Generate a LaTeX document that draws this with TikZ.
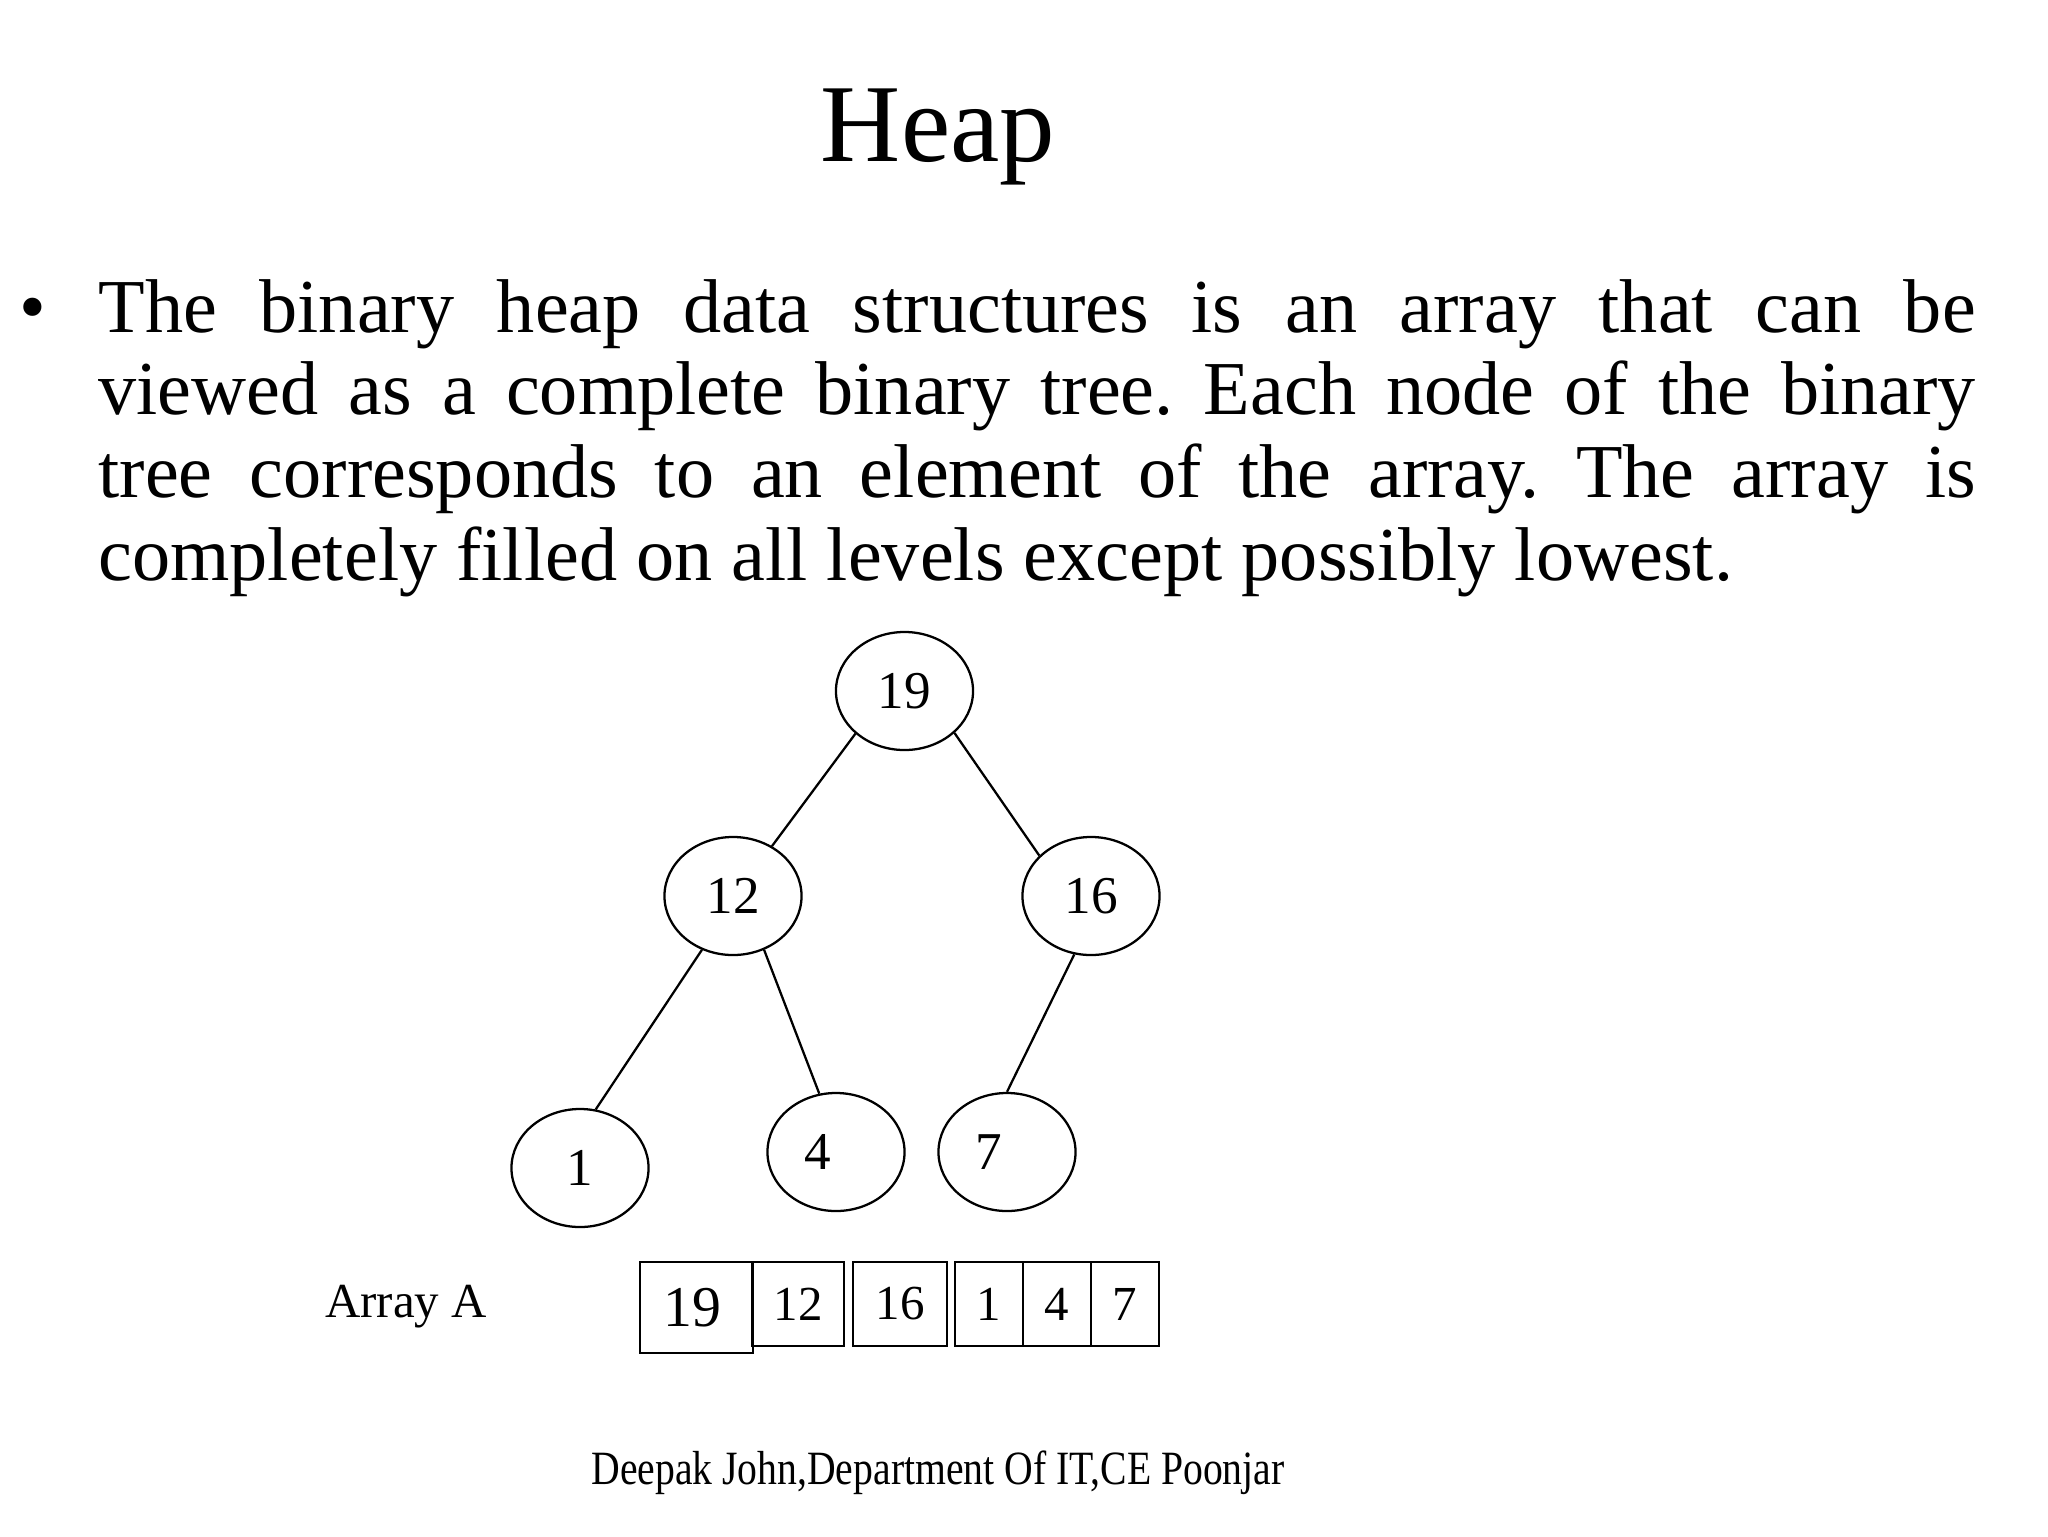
\documentclass[tikz,border=0pt]{standalone}
\usepackage{fontspec}
\setmainfont{Liberation Serif}
\usepackage{graphicx}
\usepackage{tikz}
\usetikzlibrary{shapes.geometric}
\frenchspacing
\tikzset{
  edge/.style={line width=0.8pt, draw=black},
  vertex/.style={
    draw=black,
    ellipse,
    line width=0.8pt,
    minimum width=48.2pt,
    minimum height=41.5pt,
    inner sep=0pt,
    font=\fontsize{18.7}{20}\selectfont
  },
  offvertex/.style={vertex, label={[font=\fontsize{18.7}{20}\selectfont, xshift=-6.3pt]center:#1}},
  cell/.style={
    draw=black,
    line width=0.9pt,
    inner sep=0pt,
    minimum height=29.5pt,
    font=\fontsize{17.2}{20}\selectfont
  },
  bigcell/.style={cell, minimum height=32pt, font=\fontsize{20.3}{22}\selectfont},
  titletext/.style={font=\fontsize{39}{44}\selectfont},
  bodytext/.style={font=\fontsize{26.8}{29.1}\selectfont},
  smalltext/.style={font=\fontsize{17.2}{20}\selectfont}
}
\begin{document}
\begin{tikzpicture}[x=0.3516pt, y=-0.3516pt]
      \fill[white] (0,0) rectangle (2048,1536);
      \useasboundingbox (0,0) rectangle (2048,1536);

      \node[titletext,anchor=base] (title) at (938,161) {Heap};
      \node[bodytext,anchor=base] (bullet) at (33,332) {•};
      \node[bodytext,anchor=base west,text width=660pt,align=justify,inner sep=0pt]
        (body) at (98,332) {The binary heap data structures is an array that can be\linebreak
        viewed as a complete binary tree. Each node of the binary\linebreak
        tree corresponds to an element of the array. The array is\linebreak
        completely filled on all levels except possibly lowest.};

      \node[vertex] (root) at (904.5,691) {19};
      \node[vertex] (n12) at (733,896) {12};
      \node[vertex] (n16) at (1091,896) {16};
      \node[vertex] (n1) at (580,1168) {1};
      \node[offvertex=4] (n4) at (836,1152) {};
      \node[offvertex=7] (n7) at (1007,1152) {};

      \draw[edge] (root.221) -- (n12.52);
      \draw[edge] (root.320) -- (n16.142);
      \draw[edge] (n12.240) -- (n1.75);
      \draw[edge] (n12.300) -- (n4.106);
      \draw[edge] (n16.254) -- (n7.90);

      \node[smalltext,anchor=base] (arrayname) at (406,1317) {Array A};
      \node[bigcell,minimum width=39.7pt] (a1) at (696.5,1307.5) {\hspace*{-3pt}19};
      \node[cell,minimum width=32.3pt] (a2) at (798,1304) {12};
      \node[cell,minimum width=33pt] (a3) at (900,1304) {16};
      \node[cell,minimum width=23.9pt] (a4) at (989,1304) {1};
      \node[cell,minimum width=23.9pt] (a5) at (1057,1304) {4};
      \node[cell,minimum width=23.9pt] (a6) at (1125,1304) {7};

      \node[anchor=base,font=\fontsize{16.8}{20}\selectfont]
        (footer) at (938,1484) {\scalebox{0.83}[1]{Deepak John,Department Of IT,CE Poonjar}};
    \end{tikzpicture}
\end{document}
